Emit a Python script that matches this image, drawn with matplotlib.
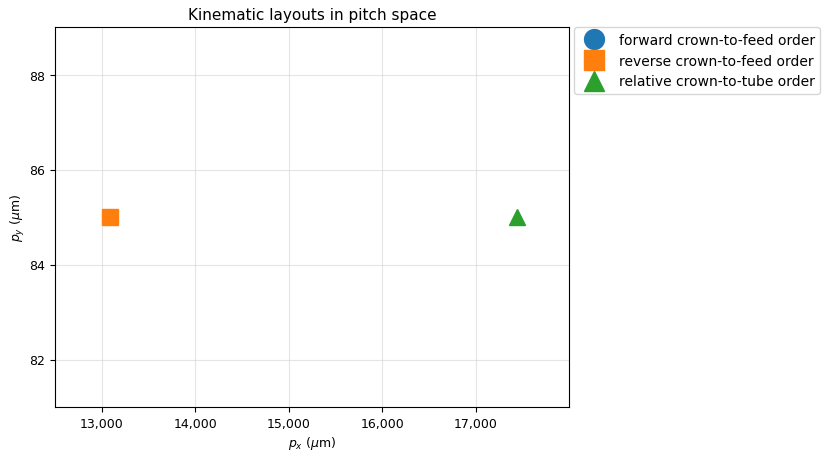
import matplotlib
matplotlib.use("Agg")
import matplotlib.pyplot as plt

# layout positions in pitch space (px, py) in micrometres
layout_names = [
    "forward crown-to-feed order",
    "reverse crown-to-feed order",
    "relative crown-to-tube order",
]
pitch_x = [13090, 13090, 17440]
pitch_y = [85.0, 85.0, 85.0]
markers = ["o", "s", "^"]
colors = ["#1f77b4", "#ff7f0e", "#2ca02c"]

x_ticks = [13000, 14000, 15000, 16000, 17000]
y_ticks = [82, 84, 86, 88]

fig = plt.figure(figsize=(8.36, 4.56), dpi=100)
ax = fig.add_axes([55 / 836, 48 / 456, 514 / 836, 380 / 456])

for name, x, y, m, c in zip(layout_names, pitch_x, pitch_y, markers, colors):
    ax.plot([x], [y], linestyle="none", marker=m, markersize=11, color=c, label=name)

ax.set_xlim(12500, 18000)
ax.set_ylim(81, 89)
ax.set_xticks(x_ticks)
ax.set_xticklabels([f"{v:,}" for v in x_ticks])
ax.set_yticks(y_ticks)
ax.tick_params(labelsize=9)
ax.grid(True, color="#cccccc", alpha=0.5, linewidth=0.8)
ax.set_axisbelow(True)

ax.set_xlabel(r"$p_x$ ($\mu$m)", fontsize=9, labelpad=3)
ax.set_ylabel(r"$p_y$ ($\mu$m)", fontsize=9, labelpad=1.5)
ax.set_title("Kinematic layouts in pitch space", fontsize=11)

ax.legend(loc="upper left", bbox_to_anchor=(1.01, 1.0), borderaxespad=0.0,
          markerscale=1.3, fontsize=10)

fig.savefig("out.png", dpi=100)
